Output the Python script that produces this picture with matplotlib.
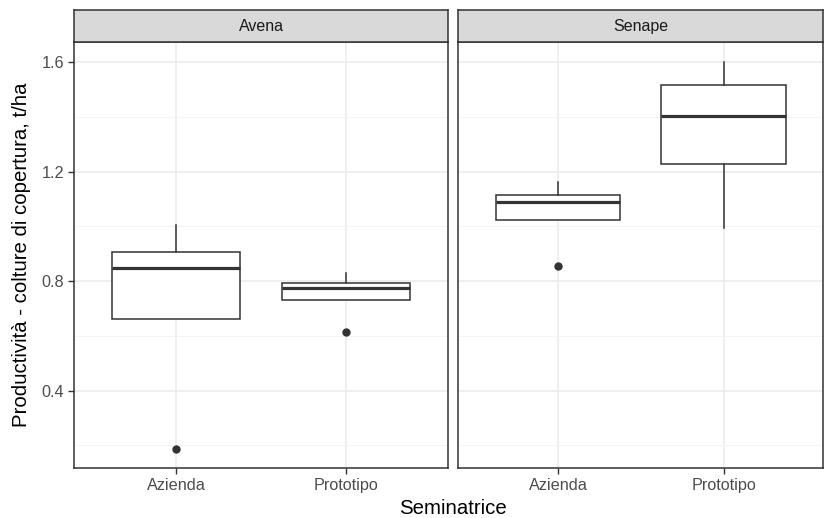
import matplotlib
matplotlib.use("Agg")
import matplotlib.pyplot as plt

plt.rcParams['font.family'] = ['Liberation Sans', 'DejaVu Sans']

# Box-plot summaries per crop (facet) and sowing machine (category)
facets = ["Avena", "Senape"]
categories = ["Azienda", "Prototipo"]

avena_whislo = [0.660, 0.731]
avena_q1 = [0.660, 0.731]
avena_med = [0.849, 0.774]
avena_q3 = [0.908, 0.792]
avena_whishi = [1.005, 0.829]
avena_fliers = [[0.186], [0.615]]

senape_whislo = [1.023, 0.993]
senape_q1 = [1.023, 1.227]
senape_med = [1.090, 1.405]
senape_q3 = [1.115, 1.518]
senape_whishi = [1.161, 1.600]
senape_fliers = [[0.856], []]

y_ticks = [0.4, 0.8, 1.2, 1.6]
y_minor = [0.2, 0.6, 1.0, 1.4]

panel_data = {
    "Avena": (avena_whislo, avena_q1, avena_med, avena_q3, avena_whishi, avena_fliers),
    "Senape": (senape_whislo, senape_q1, senape_med, senape_q3, senape_whishi, senape_fliers),
}

W, H = 828, 518
fig = plt.figure(figsize=(W / 100, H / 100), dpi=100)

dark = "#333333"
grid_major = "#ebebeb"
grid_minor = "#f3f3f3"

panels = [(74, 448), (458.5, 823)]
top_px, bot_px, strip_top_px = 42, 468, 10

for i, (name, (x0, x1)) in enumerate(zip(facets, panels)):
    ax = fig.add_axes([x0 / W, 1 - bot_px / H, (x1 - x0) / W, (bot_px - top_px) / H])
    whislo, q1, med, q3, whishi, fliers = panel_data[name]
    stats = []
    for k in range(len(categories)):
        stats.append(dict(med=med[k], q1=q1[k], q3=q3[k], whislo=whislo[k],
                          whishi=whishi[k], fliers=fliers[k], label=categories[k]))
    ax.bxp(stats, positions=[1, 2], widths=0.75, showcaps=False, patch_artist=True,
           boxprops=dict(facecolor="white", edgecolor=dark, linewidth=1.1),
           whiskerprops=dict(color=dark, linewidth=1.1),
           medianprops=dict(color=dark, linewidth=2.3, solid_capstyle="butt"),
           flierprops=dict(marker="o", markerfacecolor=dark, markeredgecolor=dark,
                           markersize=5, linestyle="none"),
           zorder=3)
    ax.set_xlim(0.4, 2.6)
    ax.set_ylim(0.117, 1.674)
    ax.set_xticks([1, 2])
    ax.set_xticklabels(categories)
    ax.set_yticks(y_ticks)
    ax.set_yticklabels([f"{v:.1f}" for v in y_ticks])
    ax.set_yticks(y_minor, minor=True)
    ax.tick_params(axis="both", which="major", length=4, width=1.0, color=dark,
                   labelsize=11.7, labelcolor="#4d4d4d", pad=3)
    ax.tick_params(axis="y", which="minor", length=0)
    if i > 0:
        ax.tick_params(axis="y", which="major", left=False, labelleft=False)
    ax.grid(True, which="major", color=grid_major, linewidth=1.1, zorder=0)
    ax.grid(True, which="minor", axis="y", color=grid_minor, linewidth=0.6, zorder=0)
    ax.set_axisbelow(True)
    for sp in ax.spines.values():
        sp.set_color(dark)
        sp.set_linewidth(1.1)

    # facet strip
    sax = fig.add_axes([x0 / W, 1 - top_px / H, (x1 - x0) / W, (top_px - strip_top_px) / H])
    sax.set_xticks([])
    sax.set_yticks([])
    sax.set_facecolor("#d9d9d9")
    for sp in sax.spines.values():
        sp.set_color(dark)
        sp.set_linewidth(1.1)
    sax.text(0.5, 0.5, name, ha="center", va="center", fontsize=11.5,
             color="#1a1a1a", transform=sax.transAxes)

fig.text(453 / W, 1 - 509 / H, "Seminatrice", ha="center", va="center",
         fontsize=14.7, color="black")
fig.text(22 / W, 1 - 255 / H, "Productività - colture di copertura, t/ha",
         ha="center", va="center", rotation=90, fontsize=14.7, color="black")

fig.savefig("out.png", dpi=100, facecolor="white")
